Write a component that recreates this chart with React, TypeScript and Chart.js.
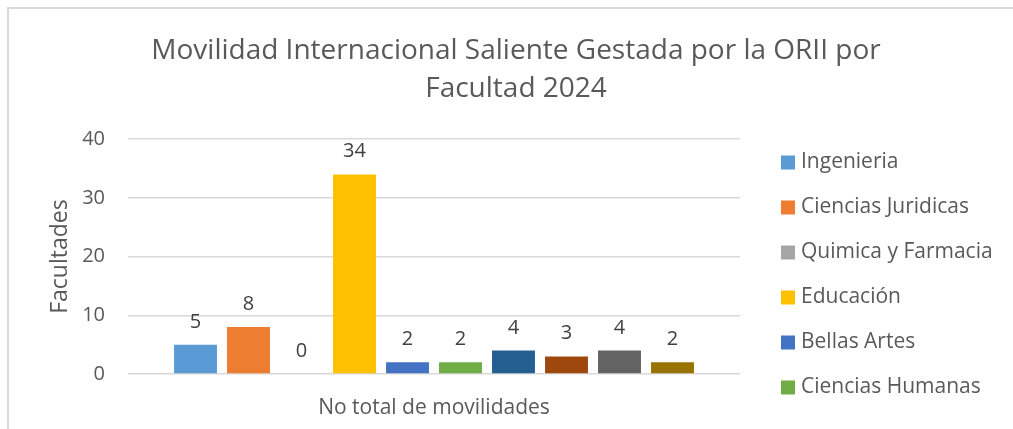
import React, { useEffect, useRef } from "react";
import { Chart, registerables } from "chart.js";

Chart.register(...registerables);

const categories = ["No total de movilidades"];
const seriesNames = [
  "Ingenieria",
  "Ciencias Juridicas",
  "Quimica y Farmacia",
  "Educación",
  "Bellas Artes",
  "Ciencias Humanas",
  "Ciencias Básicas",
  "Ciencias Económicas",
  "Arquitectura",
  "Nutrición y Dietética",
];
const seriesValues = [5, 8, 0, 34, 2, 2, 4, 3, 4, 2];
const seriesColors = [
  "#5B9BD5",
  "#ED7D31",
  "#A5A5A5",
  "#FFC000",
  "#4472C4",
  "#70AD47",
  "#255E91",
  "#9E480E",
  "#636363",
  "#997300",
];
const yTicks = [0, 10, 20, 30, 40];
const titleLines = ["Movilidad Internacional Saliente Gestada por la ORII por", "Facultad 2024"];
const visibleLegendCount = 6;

const FONT = "'Open Sans', sans-serif";

const valueLabels = {
  id: "valueLabels",
  afterDatasetsDraw(chart: any) {
    const ctx = chart.ctx;
    ctx.save();
    ctx.font = `20px ${FONT}`;
    ctx.fillStyle = "#404040";
    ctx.textAlign = "center";
    ctx.textBaseline = "alphabetic";
    chart.data.datasets.forEach((ds: any, i: number) => {
      const meta = chart.getDatasetMeta(i);
      meta.data.forEach((bar: any, j: number) => {
        ctx.fillText(String(ds.data[j]), bar.x, bar.y - 17);
      });
    });
    ctx.restore();
  },
};

// fixes the legend box width so the plot area ends where the reference's does,
// then nudges the legend column right to match the reference's placement
const legendPlacement = {
  id: "legendPlacement",
  beforeLayout(chart: any) {
    const lg = chart.legend;
    if (lg && !lg.__patched) {
      const orig = lg.fit;
      lg.fit = function (this: any) {
        orig.call(this);
        this.width = 273;
      };
      lg.__patched = true;
    }
  },
  afterLayout(chart: any) {
    const lg = chart.legend;
    if (lg) {
      lg.left += 21.5;
      lg.right += 21.5;
    }
  },
};

export default function App() {
  const ref = useRef<HTMLCanvasElement | null>(null);
  useEffect(() => {
    if (!ref.current) return;
    const chart = new Chart(ref.current, {
      type: "bar",
      data: {
        labels: categories,
        datasets: seriesNames.map((name, i) => ({
          label: name,
          data: [seriesValues[i]],
          backgroundColor: seriesColors[i],
          borderWidth: 0,
          categoryPercentage: 0.866,
          barPercentage: 0.81,
        })),
      },
      options: {
        animation: false,
        responsive: false,
        maintainAspectRatio: false,
        layout: { padding: { left: 10, right: 0, top: 0, bottom: 7 } },
        plugins: {
          title: {
            display: true,
            text: titleLines,
            color: "#595959",
            font: { family: FONT, size: 28, weight: "normal", lineHeight: 1.36 },
            padding: { top: 23, bottom: 31 },
          },
          legend: {
            position: "right",
            align: "end",
            labels: {
              filter: (item: any) => item.datasetIndex < visibleLegendCount,
              usePointStyle: true,
              pointStyle: "rect",
              boxWidth: 5,
              boxHeight: 14,
              padding: 24,
              color: "#595959",
              font: { family: FONT, size: 21 },
            },
          },
          tooltip: { enabled: false },
        },
        scales: {
          x: {
            grid: { display: false, drawTicks: false },
            border: { display: false },
            ticks: {
              color: "#595959",
              font: { family: FONT, size: 21 },
              padding: 21,
            },
            afterFit: (s: any) => {
              s.height = 48;
            },
          },
          y: {
            min: 0,
            max: 40,
            afterBuildTicks: (axis: any) => {
              axis.ticks = yTicks.map((v) => ({ value: v }));
            },
            grid: { color: "#D9D9D9", lineWidth: 1.5, drawTicks: false },
            border: { display: false },
            ticks: {
              color: "#595959",
              font: { family: FONT, size: 20 },
              padding: 23,
            },
            title: {
              display: true,
              text: "Facultades",
              color: "#595959",
              font: { family: FONT, size: 23 },
              padding: { top: 28, bottom: 0 },
            },
            afterFit: (s: any) => {
              s.width = 109;
            },
          },
        },
      },
      plugins: [valueLabels, legendPlacement],
    });
    return () => chart.destroy();
  }, []);

  return (
    <div style={{ position: "fixed", inset: 0, overflow: "hidden", background: "#fff" }}>
      <div
        style={{
          position: "absolute",
          left: 7,
          top: 7,
          width: 1004,
          height: 420,
          borderLeft: "2px solid #D9D9D9",
          borderTop: "2px solid #D9D9D9",
        }}
      >
        <canvas ref={ref} width={1004} height={420} style={{ display: "block" }} />
      </div>
    </div>
  );
}
